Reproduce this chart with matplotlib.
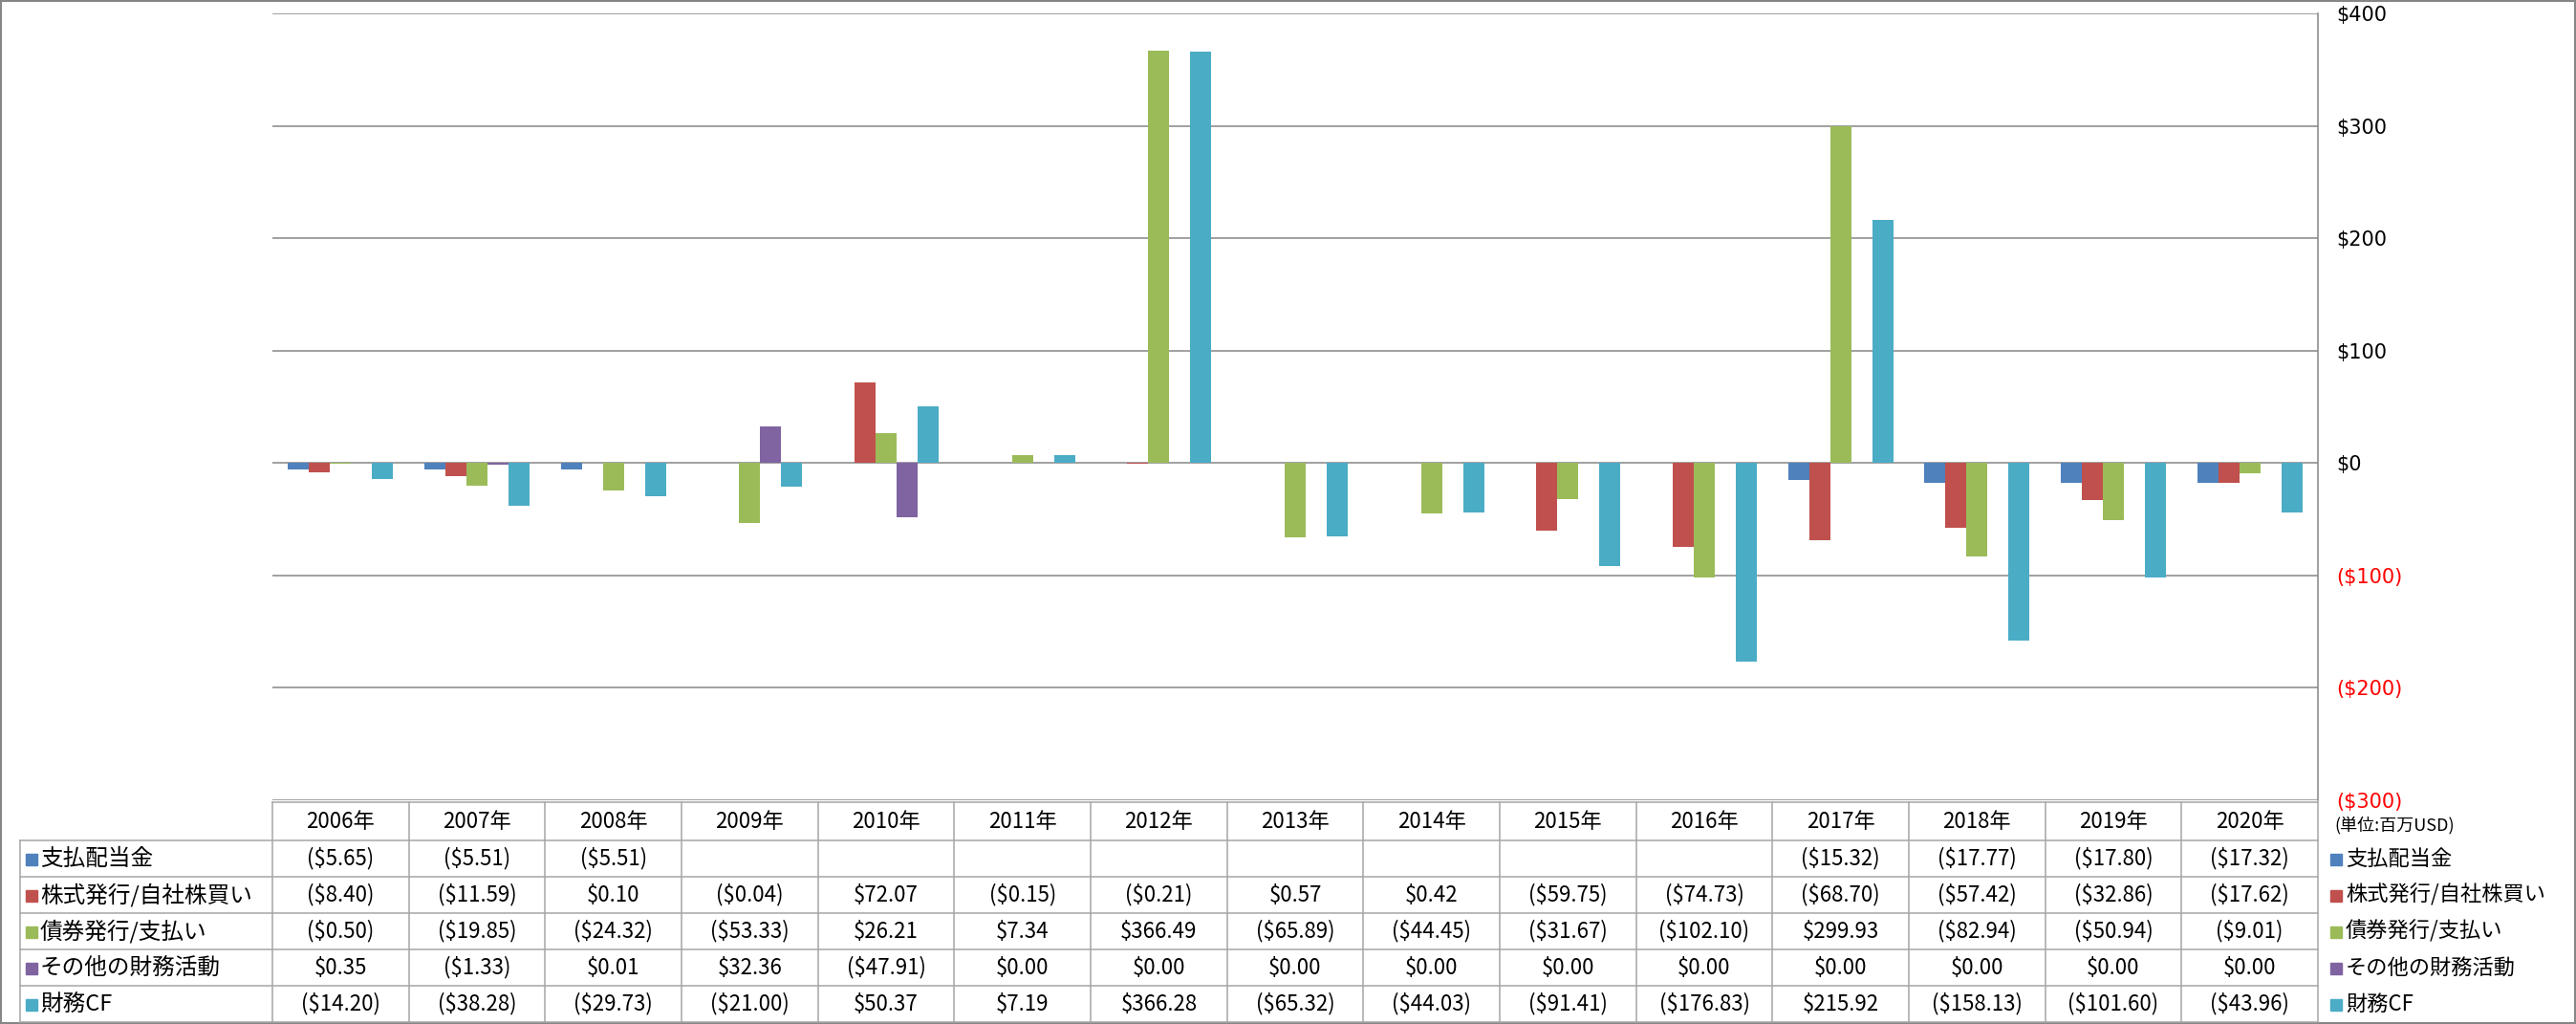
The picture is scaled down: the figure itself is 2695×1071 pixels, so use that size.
import numpy as np
import matplotlib.pyplot as plt
from matplotlib.lines import Line2D
from matplotlib.patches import Rectangle

plt.rcParams['font.family'] = ['Noto Sans CJK JP', 'DejaVu Sans']

years = ['2006年', '2007年', '2008年', '2009年', '2010年', '2011年', '2012年', '2013年',
         '2014年', '2015年', '2016年', '2017年', '2018年', '2019年', '2020年']
names = ['支払配当金', '株式発行/自社株買い', '債券発行/支払い', 'その他の財務活動', '財務CF']
colors = ['#4F81BD', '#C0504D', '#9BBB59', '#8064A2', '#4BACC6']

nan = np.nan
dividends = [-5.65, -5.51, -5.51, nan, nan, nan, nan, nan, nan, nan, nan, -15.32, -17.77, -17.80, -17.32]
stock = [-8.40, -11.59, 0.10, -0.04, 72.07, -0.15, -0.21, 0.57, 0.42, -59.75, -74.73, -68.70, -57.42, -32.86, -17.62]
bonds = [-0.50, -19.85, -24.32, -53.33, 26.21, 7.34, 366.49, -65.89, -44.45, -31.67, -102.10, 299.93, -82.94, -50.94, -9.01]
other = [0.35, -1.33, 0.01, 32.36, -47.91, 0.00, 0.00, 0.00, 0.00, 0.00, 0.00, 0.00, 0.00, 0.00, 0.00]
fin_cf = [-14.20, -38.28, -29.73, -21.00, 50.37, 7.19, 366.28, -65.32, -44.03, -91.41, -176.83, 215.92, -158.13, -101.60, -43.96]
series = [dividends, stock, bonds, other, fin_cf]

yticks = [-300, -200, -100, 0, 100, 200, 300, 400]

W, H = 2695, 1071
fig = plt.figure(figsize=(W / 100, H / 100), dpi=100)


def fx(x):
    return x / W


def fy(y):
    return 1 - y / H


def hline(x0, x1, y, c='#A6A6A6', lw=1.1):
    fig.add_artist(Line2D([fx(x0), fx(x1)], [fy(y), fy(y)], color=c, lw=lw))


def vline(x, y0, y1, c='#A6A6A6', lw=1.1):
    fig.add_artist(Line2D([fx(x), fx(x)], [fy(y0), fy(y1)], color=c, lw=lw))


def fmt(v):
    if np.isnan(v):
        return ''
    if v < 0:
        return '(${:.2f})'.format(abs(v))
    return '${:.2f}'.format(v)


# plot area
L, R, T, B = 285, 2425, 14, 837
ax = fig.add_axes([fx(L), fy(B), fx(R - L), (B - T) / H])
w = 1 / 6.5
x = np.arange(len(years))
for k, (vals, c) in enumerate(zip(series, colors)):
    ax.bar(x + (k - 2) * w, vals, width=w, color=c, zorder=3)

ax.set_xlim(-0.5, len(years) - 0.5)
ax.set_ylim(-300, 400)
ax.set_yticks(yticks)
ax.yaxis.tick_right()
ax.set_yticklabels(['(${})'.format(-t) if t < 0 else '${}'.format(t) for t in yticks],
                   fontsize=15, family='DejaVu Sans')
for lab, t in zip(ax.get_yticklabels(), yticks):
    lab.set_color('#FF0000' if t < 0 else 'black')
ax.tick_params(axis='y', length=0, pad=14)
ax.set_xticks([])
ax.grid(axis='y', color='#868686', lw=1.1, zorder=0)
for s in ['left', 'top', 'bottom']:
    ax.spines[s].set_visible(False)
ax.spines['right'].set_color('#868686')
ax.spines['right'].set_linewidth(1.1)

# data table
fs = 16
cw = (R - L) / len(years)
rows_y = [839, 879, 917, 955, 993, 1031, 1069]
hline(L, R, rows_y[0])
for yy in rows_y[1:]:
    hline(21, R, yy)
for i in range(len(years) + 1):
    vline(L + i * cw, rows_y[0], rows_y[-1])
vline(21, rows_y[1], rows_y[-1])

for i, yr in enumerate(years):
    fig.text(fx(L + (i + 0.5) * cw), fy((rows_y[0] + rows_y[1]) / 2), yr,
             ha='center', va='center', fontsize=fs)

for r, (nm, vals, c) in enumerate(zip(names, series, colors)):
    yc = (rows_y[r + 1] + rows_y[r + 2]) / 2
    fig.add_artist(Rectangle((fx(27), fy(yc + 7)), fx(12), 12 / H, color=c))
    fig.text(fx(42), fy(yc), nm, ha='left', va='center', fontsize=fs + 1)
    for i, v in enumerate(vals):
        fig.text(fx(L + (i + 0.5) * cw), fy(yc), fmt(v), ha='center', va='center', fontsize=fs)
    # legend on the right
    fig.add_artist(Rectangle((fx(2438), fy(yc + 7)), fx(12), 12 / H, color=c))
    fig.text(fx(2454), fy(yc), nm, ha='left', va='center', fontsize=fs)

fig.text(fx(2442), fy(863), '(単位:百万USD)', ha='left', va='center', fontsize=13)

# chart border
fig.add_artist(Rectangle((0.0005, 0.001), 0.999, 0.998, fill=False, ec='#868686', lw=1.5))

fig.savefig('out.png', dpi=100)
